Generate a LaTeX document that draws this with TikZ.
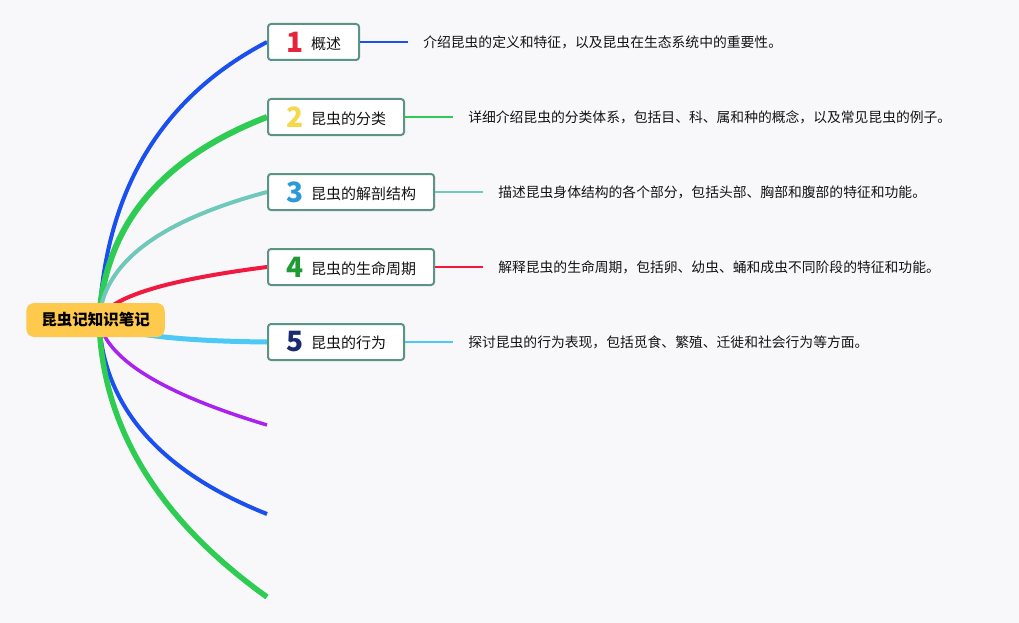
\documentclass[tikz,border=0pt]{standalone}
\usepackage{fontspec}
\newfontfamily\cjk{Noto Sans CJK SC}
\usetikzlibrary{positioning, backgrounds}

\definecolor{bgc}{RGB}{248,248,250}
\definecolor{rootc}{RGB}{255,201,78}
\definecolor{boxc}{RGB}{91,148,132}
\definecolor{txtc}{RGB}{20,20,20}
\definecolor{cblue}{RGB}{26,79,240}
\definecolor{cgreen}{RGB}{46,204,82}
\definecolor{cteal}{RGB}{111,200,185}
\definecolor{cred}{RGB}{240,25,63}
\definecolor{clblue}{RGB}{77,201,246}
\definecolor{cpurple}{RGB}{170,34,240}
\definecolor{nred}{RGB}{227,38,61}
\definecolor{nyellow}{RGB}{246,217,74}
\definecolor{nblue}{RGB}{44,154,217}
\definecolor{ngreen}{RGB}{31,155,52}
\definecolor{nnavy}{RGB}{28,42,110}

% 编号数字
\newcommand{\tnum}[2]{\raisebox{-3pt}{\color{#1}\fontsize{28}{28}\selectfont\bfseries #2}\hspace{8pt}}

\begin{document}
\begin{tikzpicture}[x=1pt, y=-1pt,
  every node/.style={font=\cjk},
  root/.style={fill=rootc, rounded corners=8pt, inner xsep=15pt, minimum height=34pt,
    font=\cjk\bfseries\fontsize{15.5}{18}\selectfont},
  topic/.style={draw=boxc, line width=2pt, fill=white, rounded corners=3pt, anchor=west,
    inner xsep=18pt, minimum height=36pt, text=txtc, font=\cjk\fontsize{15}{18}\selectfont},
  desc/.style={inner xsep=15pt, text=txtc, font=\cjk\fontsize{13.8}{16}\selectfont},
  link/.style={line width=1.2pt}]

  % 1. 中心主题与分支主题
  \coordinate (o) at (99,320);
  \node[root] (root) at (95.5,320) {昆虫记知识笔记};
  \node[topic] (t1) at (267,42) {\tnum{nred}{1}概述};
  \node[topic] (t2) at (267,117) {\tnum{nyellow}{2}昆虫的分类};
  \node[topic] (t3) at (267,192) {\tnum{nblue}{3}昆虫的解剖结构};
  \node[topic] (t4) at (267,267) {\tnum{ngreen}{4}昆虫的生命周期};
  \node[topic] (t5) at (267,342) {\tnum{nnavy}{5}昆虫的行为};
  \coordinate (e6) at (267,425);
  \coordinate (e7) at (267,514);
  \coordinate (e8) at (267,597);

  % 2. 说明文字
  \node[desc, right=48pt of t1] (d1) {介绍昆虫的定义和特征，以及昆虫在生态系统中的重要性。};
  \node[desc, right=48pt of t2] (d2) {详细介绍昆虫的分类体系，包括目、科、属和种的概念，以及常见昆虫的例子。};
  \node[desc, right=48pt of t3] (d3) {描述昆虫身体结构的各个部分，包括头部、胸部和腹部的特征和功能。};
  \node[desc, right=48pt of t4] (d4) {解释昆虫的生命周期，包括卵、幼虫、蛹和成虫不同阶段的特征和功能。};
  \node[desc, right=48pt of t5] (d5) {探讨昆虫的行为表现，包括觅食、繁殖、迁徙和社会行为等方面。};

  \draw[link, cblue] (t1.east) -- (d1.west);
  \draw[link, cgreen] (t2.east) -- (d2.west);
  \draw[link, cteal] (t3.east) -- (d3.west);
  \draw[link, cred] (t4.east) -- (d4.west);
  \draw[link, clblue] (t5.east) -- (d5.west);

  % 3. 背景与分支曲线 (压在节点下面)
  \begin{scope}[on background layer]
    \fill[bgc] (0,0) rectangle (1019,623);
    \draw[cblue, line width=4pt] (o) .. controls (106,189) and (162,97) .. (t1.west);
    \draw[cgreen, line width=6pt] (o) .. controls (105,225) and (161,158) .. (t2.west);
    \draw[cteal, line width=4pt] (o) .. controls (103,263) and (159,221) .. (t3.west);
    \draw[cred, line width=4pt] (o) .. controls (109,297) and (166,280) .. (t4.west);
    \draw[clblue, line width=5pt] (o) .. controls (113,333) and (169,341) .. (t5.west);
    \draw[cpurple, line width=3.5pt] (o) .. controls (105,358) and (161,393) .. (e6);
    \draw[cblue, line width=4pt] (o) .. controls (103,406) and (159,471) .. (e7);
    \draw[cgreen, line width=5.5pt] (o) .. controls (102,427) and (158,519) .. (e8);
  \end{scope}
\end{tikzpicture}
\end{document}
